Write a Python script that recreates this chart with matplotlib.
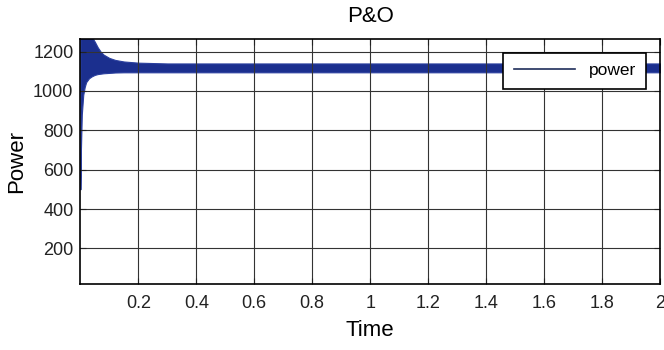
import matplotlib.pyplot as plt

# envelope of the oscillating power signal
t = [0.0, 0.002, 0.005, 0.01, 0.015, 0.02, 0.03, 0.04, 0.05, 0.06, 0.07,
     0.08, 0.1, 0.12, 0.15, 0.2, 0.3, 0.5, 1.0, 1.5, 2.0]
upper = [1280, 1280, 1280, 1280, 1280, 1280, 1280, 1275, 1250, 1222, 1200,
         1185, 1168, 1158, 1150, 1144, 1140, 1140, 1140, 1140, 1140]
lower = [500, 700, 880, 980, 1020, 1045, 1065, 1075, 1082, 1086, 1088,
         1090, 1092, 1094, 1095, 1095, 1095, 1095, 1095, 1095, 1095]

xticks = [0.2, 0.4, 0.6, 0.8, 1, 1.2, 1.4, 1.6, 1.8, 2]
xticklabels = ['0.2', '0.4', '0.6', '0.8', '1', '1.2', '1.4', '1.6', '1.8', '2']
yticks = [200, 400, 600, 800, 1000, 1200]

plt.rcParams['font.family'] = ['Liberation Sans', 'DejaVu Sans']

fig = plt.figure(figsize=(6.64, 3.5), dpi=100)
ax = fig.add_axes([0.121, 0.189, 0.873, 0.700])

ax.fill_between(t, lower, upper, color='#1b2f8e', lw=0.8, edgecolor='#2a3f9e')
# dummy handle for the legend
ax.plot([], [], color='#1f2d5a', lw=1.2, label='power')

ax.set_xlim(0, 2)
ax.set_ylim(20, 1265)
ax.set_xticks(xticks)
ax.set_xticklabels(xticklabels)
ax.set_yticks(yticks)
ax.grid(True, color='#333333', lw=0.8)
ax.tick_params(direction='in', top=True, right=True, labelsize=13,
               colors='#222222', length=4)
ax.tick_params(axis='x', pad=8)
ax.tick_params(axis='y', pad=5)
for s in ax.spines.values():
    s.set_linewidth(1.2)

ax.set_title('P&O', fontsize=16, pad=12)
ax.set_xlabel('Time', fontsize=16, labelpad=6)
ax.set_ylabel('Power', fontsize=16, labelpad=4)

leg = ax.legend(loc='upper right', bbox_to_anchor=(0.976, 0.943), fontsize=12.5,
                frameon=True, fancybox=False, handlelength=3.5, borderpad=0.6,
                borderaxespad=0)
leg.get_frame().set_edgecolor('black')
leg.get_frame().set_linewidth(1.2)
leg.get_frame().set_alpha(1)

fig.savefig('out.png', dpi=100)
